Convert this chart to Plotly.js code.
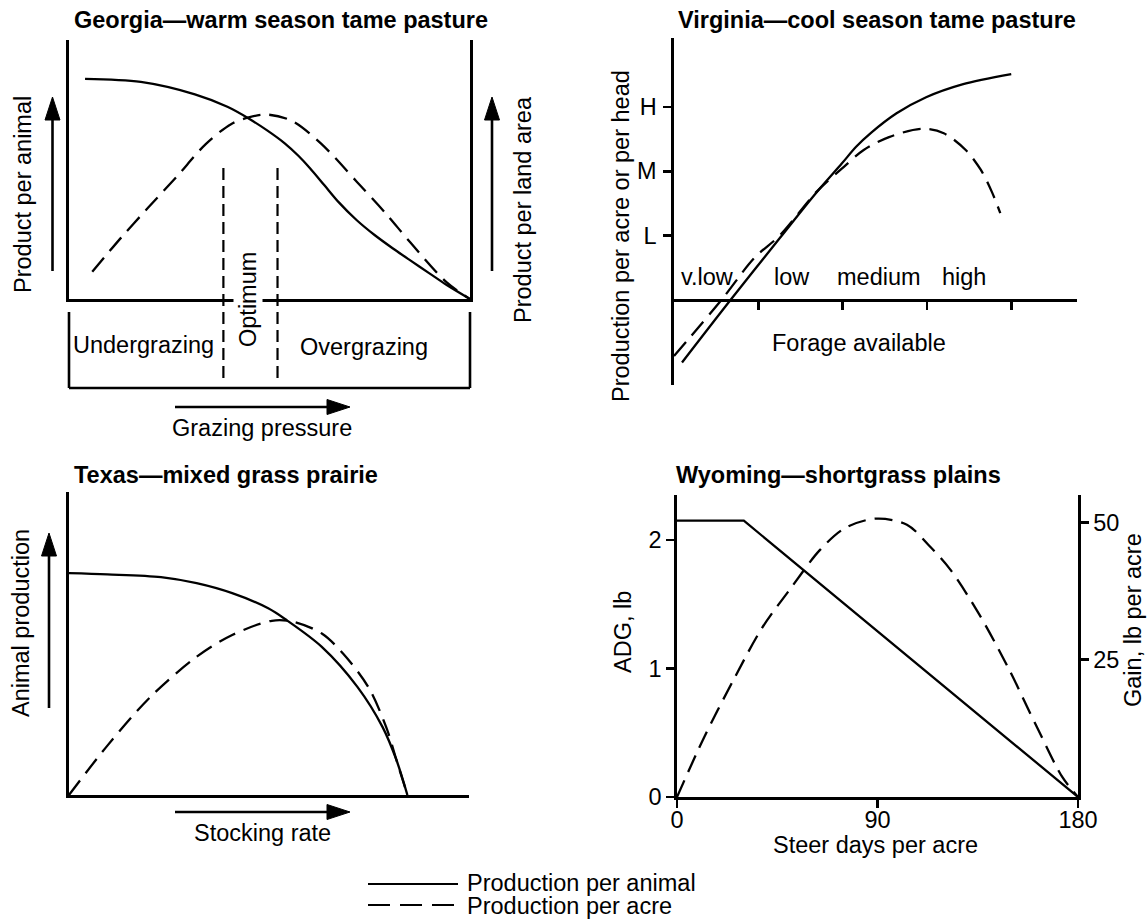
<!DOCTYPE html>
<html><head><meta charset="utf-8">
<script src="https://cdn.plot.ly/plotly-3.0.1.min.js"></script>
<style>html,body{margin:0;padding:0;background:#fff}#chart{width:1148px;height:921px}</style>
</head><body><div id="chart"></div>
<script>
// ---------------- DATA ----------------
// Georgia — warm season tame pasture (relative scale 0-100)
const georgiaAnimalX = [4.0, 17.9, 31.4, 39.5, 44.8, 49.5, 53.8, 57.2, 60.1, 63.7, 67.3, 71.7, 76.2, 80.7, 85.2, 89.7, 94.2, 100];
const georgiaAnimalY = [85.0, 83.8, 79.0, 74.2, 69.7, 65.0, 60.1, 55.3, 50.5, 43.9, 37.3, 30.5, 24.7, 19.6, 14.8, 10.1, 5.4, 0];
const georgiaAcreX = [5.8, 13.0, 19.7, 26.9, 34.1, 40.4, 44.8, 49.3, 55.6, 62.8, 71.7, 78.9, 85.2, 94.2, 100];
const georgiaAcreY = [10.5, 23.7, 35.2, 47.3, 59.8, 67.5, 70.1, 71.2, 68.8, 60.1, 45.4, 33.2, 21.7, 6.4, 0];
const georgiaOptimum = [38.5, 52.0];
const georgiaZones = ["Undergrazing", "Optimum", "Overgrazing"];

// Virginia — cool season tame pasture (forage available units, L/M/H = 1/2/3)
const virginiaAnimalX = [0.095, 0.67, 1.26, 1.69, 1.99, 2.16, 2.34, 2.64, 2.99, 3.42, 4.00];
const virginiaAnimalY = [-0.97, 0, 0.97, 1.67, 2.12, 2.38, 2.60, 2.90, 3.15, 3.35, 3.51];
const virginiaAcreX = [0, 0.58, 0.95, 1.26, 1.69, 1.99, 2.25, 2.55, 2.94, 3.20, 3.46, 3.64, 3.77, 3.87];
const virginiaAcreY = [-0.87, 0.03, 0.65, 1.01, 1.68, 2.04, 2.33, 2.53, 2.66, 2.59, 2.33, 2.02, 1.68, 1.35];
const virginiaLevels = ["L", "M", "H"];
const forageClasses = ["v.low", "low", "medium", "high"];

// Texas — mixed grass prairie (relative scale 0-100)
const texasAnimalX = [0, 9.6, 23.0, 31.9, 40.8, 49.8, 54.2, 63.2, 72.1, 78.4, 81.9, 84.6];
const texasAnimalY = [73.2, 72.8, 71.9, 69.9, 66.6, 61.6, 57.9, 48.9, 35.7, 22.4, 11.4, 0];
const texasAcreX = [0, 9.6, 20.3, 31.9, 40.8, 50.7, 56.0, 63.2, 68.5, 74.8, 79.3, 81.9, 84.6];
const texasAcreY = [0, 16.3, 32.3, 45.6, 52.8, 57.5, 57.2, 53.3, 46.7, 35.7, 22.4, 11.4, 0];

// Wyoming — shortgrass plains
const wyomingDays = [0, 30, 180];
const wyomingADG = [2.15, 2.15, 0];
const wyomingGainDays = [0, 12.2, 25.2, 38.2, 51.2, 64.2, 75.5, 89.4, 103.2, 112.9, 122.7, 135.6, 148.6, 161.6, 173.0, 180];
const wyomingGain = [0, 10.9, 21.2, 30.8, 38.1, 45.0, 49.0, 50.7, 49.6, 45.9, 41.4, 33.3, 23.6, 12.7, 3.6, 0];
const wyomingDayTicks = [0, 90, 180];
const wyomingADGTicks = [0, 1, 2];
const wyomingGainTicks = [25, 50];

const legendLabels = ["Production per animal", "Production per acre"];

// ---------------- LAYOUT HELPERS ----------------
const W = 1148, H = 921;
const FONT = "Liberation Sans, Arial, Helvetica, sans-serif";
const FS = 23.5;
const px = x => x / W;
const py = y => 1 - y / H;
const solid = {color: "black", width: 2.3, shape: "spline", smoothing: 0.9};
const dashed = {color: "black", width: 2.3, dash: "18px,9px", shape: "spline", smoothing: 0.9};

const traces = [
  {x: georgiaAnimalX, y: georgiaAnimalY, xaxis: "x", yaxis: "y", mode: "lines", line: solid},
  {x: georgiaAcreX, y: georgiaAcreY, xaxis: "x", yaxis: "y", mode: "lines", line: dashed},
  {x: virginiaAnimalX, y: virginiaAnimalY, xaxis: "x2", yaxis: "y2", mode: "lines", line: solid},
  {x: virginiaAcreX, y: virginiaAcreY, xaxis: "x2", yaxis: "y2", mode: "lines", line: dashed},
  {x: texasAnimalX, y: texasAnimalY, xaxis: "x3", yaxis: "y3", mode: "lines", line: solid},
  {x: texasAcreX, y: texasAcreY, xaxis: "x3", yaxis: "y3", mode: "lines", line: dashed},
  {x: wyomingDays, y: wyomingADG, xaxis: "x4", yaxis: "y4", mode: "lines", line: {color: "black", width: 2.3}},
  {x: wyomingGainDays, y: wyomingGain, xaxis: "x4", yaxis: "y5", mode: "lines", line: dashed}
];

const hidden = {showgrid: false, zeroline: false, showticklabels: false, ticks: "", fixedrange: true};
const axLine = {showline: true, linecolor: "black", linewidth: 2.6};
const tickFont = {family: FONT, size: FS, color: "black"};
const tk = {ticks: "outside", ticklen: 8, tickwidth: 2.6, tickcolor: "black"};

const layout = {
  width: W, height: H, autosize: false,
  margin: {l: 0, r: 0, t: 0, b: 0, pad: 0},
  paper_bgcolor: "white", plot_bgcolor: "rgba(0,0,0,0)",
  showlegend: false,
  font: {family: FONT, size: FS, color: "black"},
  // Georgia
  xaxis: Object.assign({}, hidden, axLine, {domain: [px(69), px(470)], range: [0, 100], anchor: "y"}),
  yaxis: Object.assign({}, hidden, axLine, {domain: [py(299), py(40)], range: [0, 100], anchor: "x", mirror: true}),
  // Virginia
  xaxis2: Object.assign({}, hidden, axLine, tk, {domain: [px(674), px(1077)], range: [0, 4.78], anchor: "free", position: py(300),
    tickvals: [1, 2, 3, 4]}),
  yaxis2: Object.assign({}, hidden, axLine, tk, {domain: [py(385), py(38)], range: [-1.32, 4.07], anchor: "x2",
    tickvals: [1, 2, 3], ticktext: virginiaLevels, showticklabels: true, tickfont: tickFont, ticklabelstandoff: 2}),
  // Texas
  xaxis3: Object.assign({}, hidden, axLine, {domain: [px(69), px(469)], range: [0, 100], anchor: "y3"}),
  yaxis3: Object.assign({}, hidden, axLine, {domain: [py(795), py(492)], range: [0, 100], anchor: "x3"}),
  // Wyoming
  xaxis4: Object.assign({}, hidden, axLine, tk, {domain: [px(677), px(1078)], range: [0, 180], anchor: "y4",
    tickvals: wyomingDayTicks, showticklabels: true, tickfont: tickFont, ticklabelstandoff: -8}),
  yaxis4: Object.assign({}, hidden, axLine, tk, {domain: [py(797), py(495)], range: [0, 2.35], anchor: "x4",
    tickvals: wyomingADGTicks, showticklabels: true, tickfont: tickFont}),
  yaxis5: Object.assign({}, hidden, axLine, tk, {domain: [py(797), py(495)], range: [0, 55], anchor: "x4",
    overlaying: "y4", side: "right",
    tickvals: wyomingGainTicks, showticklabels: true, tickfont: tickFont})
};

// ---------------- SHAPES ----------------
const shapes = [];
function seg(x0, y0, x1, y1, extra) {
  shapes.push(Object.assign({type: "line", xref: "paper", yref: "paper",
    x0: px(x0), y0: py(y0), x1: px(x1), y1: py(y1),
    line: {color: "black", width: 2.6}}, extra || {}));
}
function tri(a, b, c) {
  shapes.push({type: "path", xref: "paper", yref: "paper",
    path: `M ${px(a[0])} ${py(a[1])} L ${px(b[0])} ${py(b[1])} L ${px(c[0])} ${py(c[1])} Z`,
    fillcolor: "black", line: {color: "black", width: 1}});
}
function arrowRight(x0, x1, y) { seg(x0, y, x1 - 18, y); tri([x1, y], [x1 - 23, y - 7.5], [x1 - 23, y + 7.5]); }
function arrowUp(x, y0, y1) { seg(x, y0, x, y1 + 18); tri([x, y1], [x - 7.5, y1 + 23], [x + 7.5, y1 + 23]); }

// Georgia lower box
seg(69, 312, 69, 388);
seg(69, 388, 470, 388);
seg(470, 312, 470, 388);
// Georgia optimum dashed boundaries
georgiaOptimum.forEach(v => shapes.push({type: "line", xref: "x", yref: "paper",
  x0: v, x1: v, y0: py(168), y1: py(382), line: {color: "black", width: 2.2, dash: "12px,6px"}}));
// arrows
arrowRight(175, 350, 407);
arrowUp(52.5, 271, 97);
arrowUp(492, 271, 97);
arrowRight(175, 350, 812);
arrowUp(49, 708, 533);
// legend samples
seg(368, 884, 458, 884, {line: {color: "black", width: 2.2}});
seg(368, 905, 458, 905, {line: {color: "black", width: 2.2, dash: "22px,10px"}});
layout.shapes = shapes;

// ---------------- ANNOTATIONS ----------------
const ann = [];
function txt(x, y, text, opts) {
  ann.push(Object.assign({xref: "paper", yref: "paper", x: px(x), y: py(y), text: text,
    showarrow: false, xanchor: "center", yanchor: "middle",
    font: {family: FONT, size: FS, color: "black"}}, opts || {}));
}
const titleOpts = {xanchor: "left", font: {family: FONT, size: 23.5, color: "black"}};
txt(72, 20, "<b>Georgia—warm season tame pasture</b>", titleOpts);
txt(676, 20, "<b>Virginia—cool season tame pasture</b>", titleOpts);
txt(72, 475, "<b>Texas—mixed grass prairie</b>", titleOpts);
txt(674, 475, "<b>Wyoming—shortgrass plains</b>", titleOpts);

txt(23, 195, "Product per animal", {textangle: -90});
txt(523, 210, "Product per land area", {textangle: -90});
txt(248, 300, georgiaZones[1], {textangle: -90, bgcolor: "white"});
txt(143, 345, georgiaZones[0]);
txt(364, 347, georgiaZones[2]);
txt(262, 428, "Grazing pressure");

txt(621, 236, "Production per acre or per head", {textangle: -90});
const forageX = [707, 792, 879, 964];
forageClasses.forEach((c, i) => txt(forageX[i], 277, c));
txt(859, 343, "Forage available");

txt(21, 623, "Animal production", {textangle: -90});
txt(262, 833, "Stocking rate");

txt(623, 632, "ADG, lb", {textangle: -90});
txt(1133, 620, "Gain, lb per acre", {textangle: -90});
txt(875, 845, "Steer days per acre");

txt(465, 883, legendLabels[0], {xanchor: "left"});
txt(465, 906, legendLabels[1], {xanchor: "left"});
layout.annotations = ann;

Plotly.newPlot("chart", traces, layout, {staticPlot: true, displayModeBar: false});
</script></body></html>
